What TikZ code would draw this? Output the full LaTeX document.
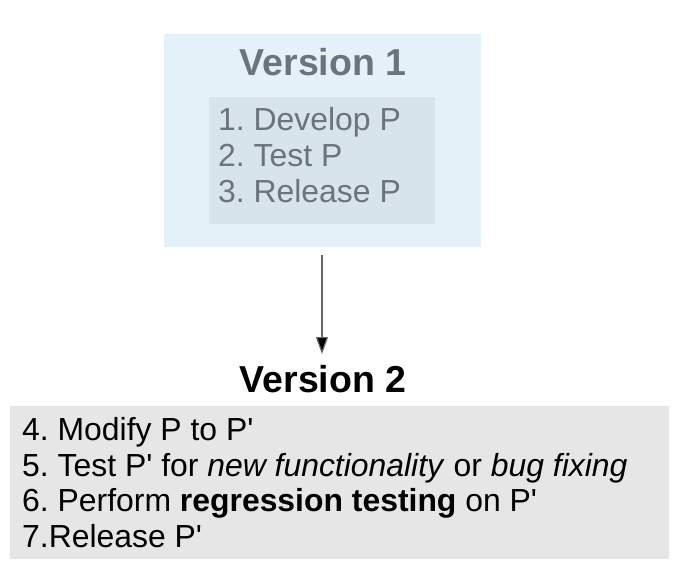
\documentclass[tikz,border=0pt]{standalone}
\usepackage{fontspec}
\setmainfont{Liberation Sans}
\usetikzlibrary{arrows.meta}
\definecolor{outerblue}{HTML}{E4F1F9}
\definecolor{innerblue}{HTML}{D8E4EC}
\definecolor{fadegray}{HTML}{6B747B}
\definecolor{boxgray}{HTML}{E6E6E6}
\tikzset{
  vtitle/.style={anchor=base, inner sep=0pt, font=\fontsize{37.5}{40}\selectfont\bfseries},
  v1item/.style={anchor=base west, inner sep=0pt, text=fadegray, font=\fontsize{31.9}{36}\selectfont},
  v2item/.style={anchor=base west, inner sep=0pt, text=black, font=\fontsize{31.9}{36}\selectfont},
  conn/.style={draw=black!60, line width=1.2pt, -{Triangle[length=17pt,width=12pt,fill=black]}}
}
\newcommand{\q}{\textquotesingle}
\frenchspacing
\begin{document}
\begin{tikzpicture}[x=1pt,y=-1pt]
\useasboundingbox (0,0) rectangle (684,582);
% Version 1
\fill[outerblue] (164,34) rectangle (481,247);
\fill[innerblue] (209,97) rectangle (435,224);
\node[vtitle, text=fadegray] (v1title) at (323,75) {Version 1};
\node[v1item] (i1) at (218,130) {1. Develop P};
\node[v1item] (i2) at (218,166) {2. Test P};
\node[v1item] (i3) at (218,202) {3. Release P};
\coordinate (v1bot) at (322,255);
% Version 2
\node[vtitle, text=black] (v2title) at (323,392) {Version 2};
\coordinate (arrtip) at (322,354);
\draw[conn] (v1bot) -- (arrtip);
\fill[boxgray] (10,406) rectangle (669,559);
\node[v2item] (j1) at (22,440) {4. Modify P to P\q};
\node[v2item] (j2) at (22,476) {5. Test P\q{} for \textit{new functionality} or \textit{bug fixing}};
\node[v2item] (j3) at (22,511) {6. Perform \textbf{regression testing} on P\q};
\node[v2item] (j4) at (22,547) {7.Release P\q};
\end{tikzpicture}
\end{document}
